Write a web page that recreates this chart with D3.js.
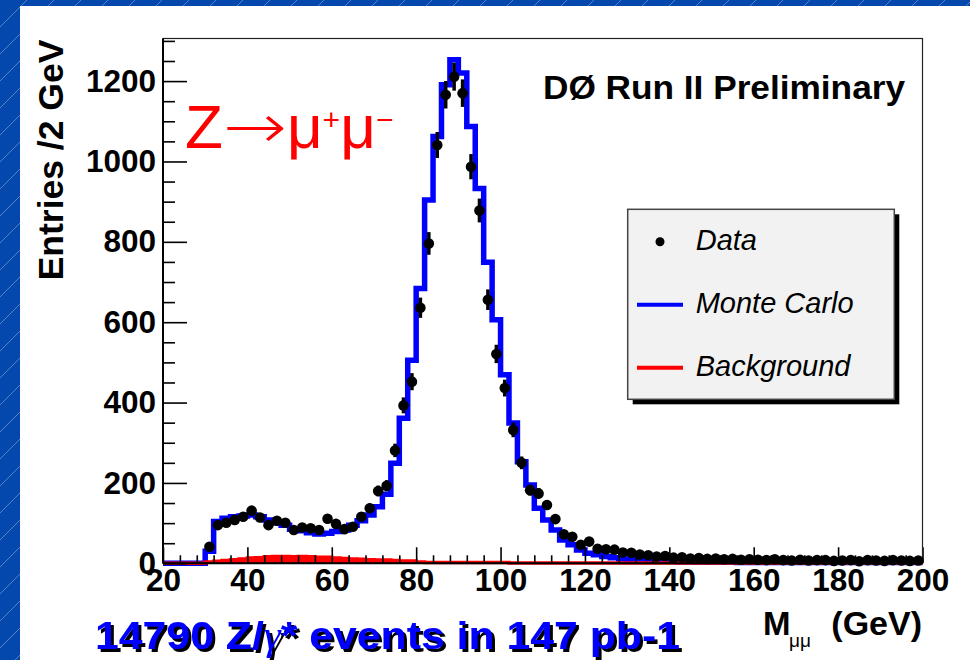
<!DOCTYPE html>
<html>
<head>
<meta charset="utf-8">
<script src="https://cdn.jsdelivr.net/npm/d3@7"></script>
<style>
  html, body { margin: 0; padding: 0; background: #0447ad; }
  svg { display: block; }
</style>
</head>
<body>
<svg id="chart" width="970" height="660"></svg>
<script>
// Dimuon invariant mass, 2 GeV bins from 20 to 200 GeV
const binEdges = d3.range(20, 201, 2);

// Observed entries per bin (empty bins below 30 GeV are not drawn)
const dataCounts = [
  null, null, null, null, null,
  41, 95, 101, 108, 116, 131, 114, 95, 106, 101,
  83, 89, 87, 83, 111, 98, 85, 91, 116, 137,
  180, 193, 281, 393, 452, 636, 796, 1041, 1166, 1211,
  1170, 987, 878, 656, 521, 436, 332, 250, 182, 174,
  145, 110, 72, 66, 46, 54, 36, 35, 34, 27,
  26, 22, 20, 17, 18, 14, 15, 12, 13, 11,
  12, 10, 11, 9, 10, 9, 8, 10, 8, 7,
  9, 7, 8, 8, 6, 7, 8, 5, 8, 7,
  6, 8, 7, 6, 7
];

// Simulated Z/gamma* -> mu mu prediction
const mcCounts = [
  0, 0, 0, 0, 0,
  30, 104, 112, 116, 118, 120, 116, 108, 101, 95,
  85, 81, 76, 73, 75, 79, 83, 95, 106, 120,
  141, 172, 249, 361, 505, 684, 904, 1062, 1191, 1253,
  1220, 1087, 933, 749, 606, 469, 349, 253, 195, 137,
  108, 83, 58, 46, 33, 25, 21, 17, 14, 11,
  9, 8, 7, 6, 5, 5, 4, 4, 3, 3,
  3, 3, 3, 2, 2, 2, 2, 2, 2, 2,
  2, 2, 2, 2, 2, 2, 2, 5, 2, 2,
  2, 2, 2, 2, 2
];

// Estimated background contribution
const bkgCounts = [
  0, 0, 0, 0, 0,
  3, 5, 7, 9, 11, 13, 14, 16, 17, 17,
  16, 17, 16, 15, 15, 13, 12, 11, 10, 9,
  8, 8, 7, 6, 6, 3, 2, 2, 2, 2,
  2, 2, 2, 2, 2, 2, 1, 1, 1, 1,
  1, 1, 1, 1, 1, 1, 1, 1, 1, 1,
  1, 1, 1, 1, 1, 1, 1, 1, 1, 1,
  1, 1, 1, 1, 1, 1, 1, 1, 1, 1,
  1, 1, 1, 1, 1, 1, 1, 1, 1, 1,
  1, 1, 1, 1, 1
];

const xTicks = [20, 40, 60, 80, 100, 120, 140, 160, 180, 200];
const xMinorTicks = d3.range(20, 201, 4).filter(v => !xTicks.includes(v));
const yTicks = [0, 200, 400, 600, 800, 1000, 1200];
const yMinorTicks = d3.range(0, 1301, 50).filter(v => !yTicks.includes(v));

const legendItems = [
  { label: "Data", kind: "marker" },
  { label: "Monte Carlo", kind: "line", color: "#0000ff" },
  { label: "Background", kind: "line", color: "#ff0000" }
];

const W = 970, H = 660;
const SANS = "'Liberation Sans', Arial, Helvetica, sans-serif";
const svg = d3.select("#chart");

// ---- slide backdrop: blue with fine diagonal pinstripes, white card on top
const defs = svg.append("defs");
const pat = defs.append("pattern")
  .attr("id", "stripes")
  .attr("patternUnits", "userSpaceOnUse")
  .attr("width", 27).attr("height", 27);
pat.append("path")
  .attr("d", "M-2,2 L2,-2 M0,27 L27,0 M25,29 L29,25")
  .attr("stroke", "rgba(255,255,255,0.33)")
  .attr("stroke-width", 1);

// hard black drop shadow for the caption
const shadow = defs.append("filter").attr("id", "capShadow")
  .attr("x", "-5%").attr("y", "-20%").attr("width", "110%").attr("height", "140%");
shadow.append("feOffset").attr("in", "SourceAlpha").attr("dx", 2.5).attr("dy", 2.5).attr("result", "off");
shadow.append("feFlood").attr("flood-color", "#000").attr("result", "blk");
shadow.append("feComposite").attr("in", "blk").attr("in2", "off").attr("operator", "in").attr("result", "sh");
const merge = shadow.append("feMerge");
merge.append("feMergeNode").attr("in", "sh");
merge.append("feMergeNode").attr("in", "SourceGraphic");

svg.append("rect").attr("width", W).attr("height", H).attr("fill", "#0447ad");
svg.append("rect").attr("width", W).attr("height", H).attr("fill", "url(#stripes)");
svg.append("rect").attr("x", 20).attr("y", 6).attr("width", W - 20).attr("height", H - 6).attr("fill", "#ffffff");

// ---- scales
const frame = { left: 163, right: 922.5, top: 38.5, bottom: 563.3 };
const x = d3.scaleLinear().domain([20, 200]).range([frame.left, frame.right]);
const y = d3.scaleLinear().domain([0, 1306]).range([frame.bottom, frame.top]);

// ---- histograms
function stepPoints(counts) {
  const pts = [];
  counts.forEach((v, i) => {
    pts.push([binEdges[i], v]);
    pts.push([binEdges[i + 1], v]);
  });
  return pts;
}
const stepLine = d3.line().x(d => x(d[0])).y(d => y(d[1]));
const stepArea = d3.area().x(d => x(d[0])).y0(y(0)).y1(d => y(d[1]));

const hist = svg.append("g");
hist.append("path")
  .attr("d", stepLine(stepPoints(mcCounts)))
  .attr("fill", "none")
  .attr("stroke", "#0000ff")
  .attr("stroke-width", 5.5)
  .attr("stroke-linejoin", "miter");

hist.append("path")
  .attr("d", stepArea(stepPoints(bkgCounts)))
  .attr("fill", "#ff0000");
hist.append("path")
  .attr("d", stepLine(stepPoints(bkgCounts)))
  .attr("fill", "none")
  .attr("stroke", "#ff0000")
  .attr("stroke-width", 3.5);

// ---- axes (ticks point into the frame)
const axisFont = g => g.selectAll("text")
  .attr("font-family", SANS).attr("font-weight", "bold")
  .attr("font-size", 31.5).attr("fill", "#000");

const yAxis = svg.append("g").attr("transform", `translate(${frame.left},0)`)
  .call(d3.axisLeft(y).tickValues(yTicks).tickSize(-24).tickPadding(7).tickFormat(d3.format("d")))
  .call(axisFont);
const yMinor = svg.append("g").attr("transform", `translate(${frame.left},0)`)
  .call(d3.axisLeft(y).tickValues(yMinorTicks).tickSize(-12).tickFormat(""));

const xAxis = svg.append("g").attr("transform", `translate(0,${frame.bottom})`)
  .call(d3.axisBottom(x).tickValues(xTicks).tickSize(-16).tickPadding(5.5).tickFormat(d3.format("d")))
  .call(axisFont);
const xMinor = svg.append("g").attr("transform", `translate(0,${frame.bottom})`)
  .call(d3.axisBottom(x).tickValues(xMinorTicks).tickSize(-8).tickFormat(""));

[yAxis, yMinor, xAxis, xMinor].forEach(g => {
  g.select(".domain").remove();
  g.selectAll(".tick line").attr("stroke", "#000").attr("stroke-width", 1.6);
});

// frame
svg.append("rect")
  .attr("x", frame.left).attr("y", frame.top)
  .attr("width", frame.right - frame.left).attr("height", frame.bottom - frame.top)
  .attr("fill", "none").attr("stroke", "#222").attr("stroke-width", 1.2);
svg.append("line")
  .attr("x1", frame.left).attr("x2", frame.left)
  .attr("y1", frame.top).attr("y2", frame.bottom)
  .attr("stroke", "#000").attr("stroke-width", 2);
svg.append("line")
  .attr("x1", frame.left).attr("x2", frame.right)
  .attr("y1", frame.bottom).attr("y2", frame.bottom)
  .attr("stroke", "#000").attr("stroke-width", 2);

// ---- data points with statistical error bars
const pts = dataCounts
  .map((v, i) => ({ m: (binEdges[i] + binEdges[i + 1]) / 2, v }))
  .filter(d => d.v !== null);

const dataG = svg.append("g");
dataG.selectAll("line.err").data(pts).join("line")
  .attr("class", "err")
  .attr("x1", d => x(d.m)).attr("x2", d => x(d.m))
  .attr("y1", d => y(d.v - Math.sqrt(d.v))).attr("y2", d => y(d.v + Math.sqrt(d.v)))
  .attr("stroke", "#000").attr("stroke-width", 3.5);
dataG.selectAll("circle").data(pts).join("circle")
  .attr("cx", d => x(d.m)).attr("cy", d => y(d.v))
  .attr("r", 5.3).attr("fill", "#000");

// ---- axis titles
svg.append("text")
  .attr("transform", "translate(63,160) rotate(-90)")
  .attr("text-anchor", "middle")
  .attr("font-family", SANS).attr("font-weight", "bold").attr("font-size", 35.5)
  .attr("fill", "#000")
  .text("Entries /2 GeV");

svg.append("text")
  .attr("x", 763).attr("y", 635)
  .attr("font-family", SANS).attr("font-weight", "bold").attr("font-size", 33)
  .attr("fill", "#000").text("M");
svg.append("text")
  .attr("x", 789).attr("y", 647)
  .attr("font-family", SANS).attr("font-size", 19)
  .attr("fill", "#000").text("μμ");
svg.append("text")
  .attr("x", 922).attr("y", 635).attr("text-anchor", "end")
  .attr("font-family", SANS).attr("font-weight", "bold").attr("font-size", 34)
  .attr("fill", "#000").text("(GeV)");

// ---- annotations
svg.append("text")
  .attr("x", 543).attr("y", 99)
  .attr("textLength", 362).attr("lengthAdjust", "spacingAndGlyphs")
  .attr("font-family", SANS).attr("font-weight", "bold").attr("font-size", 34)
  .attr("fill", "#000").text("DØ Run II Preliminary");

// Z -> mu+ mu- : the arrow is stretched to a long, thin arrow
const zt = svg.append("text")
  .attr("x", 185).attr("y", 148)
  .attr("font-family", SANS).attr("font-size", 62).attr("fill", "#ff0000");
zt.append("tspan").text("Z");
zt.append("tspan")
  .attr("font-family", "'DejaVu Sans', sans-serif").attr("font-weight", "200")
  .attr("textLength", 64).attr("lengthAdjust", "spacingAndGlyphs")
  .text("→");
zt.append("tspan").text("μ");
zt.append("tspan").attr("font-size", 30).attr("dy", -18).text("+");
zt.append("tspan").attr("dy", 18).text("μ");
zt.append("tspan").attr("font-size", 30).attr("dy", -18).text("−");

// ---- legend
const lg = svg.append("g");
const lgBox = { x: 627.7, y: 209.3, w: 266.6, h: 190 };
lg.append("rect")
  .attr("x", lgBox.x + 5).attr("y", lgBox.y + 5)
  .attr("width", lgBox.w).attr("height", lgBox.h).attr("fill", "#000");
lg.append("rect")
  .attr("x", lgBox.x).attr("y", lgBox.y)
  .attr("width", lgBox.w).attr("height", lgBox.h)
  .attr("fill", "#f2f2f2").attr("stroke", "#444").attr("stroke-width", 1.5);

const rowY = d3.scalePoint().domain(legendItems.map(d => d.label)).range([241.7, 367.7]);
legendItems.forEach(item => {
  const cy = rowY(item.label);
  if (item.kind === "marker") {
    lg.append("circle").attr("cx", 660).attr("cy", cy).attr("r", 4.5).attr("fill", "#000");
  } else {
    lg.append("line")
      .attr("x1", 637).attr("x2", 683).attr("y1", cy).attr("y2", cy)
      .attr("stroke", item.color).attr("stroke-width", 4);
  }
  lg.append("text")
    .attr("x", 695.7).attr("y", cy + 7.8)
    .attr("font-family", SANS).attr("font-style", "italic").attr("font-size", 29)
    .attr("fill", "#000").text(item.label);
});

// ---- caption with drop shadow
const cap = svg.append("text")
  .attr("x", 95).attr("y", 649)
  .attr("textLength", 585).attr("lengthAdjust", "spacingAndGlyphs")
  .attr("font-family", SANS).attr("font-weight", "bold").attr("font-size", 39)
  .attr("fill", "#0000ff")
  .attr("filter", "url(#capShadow)");
cap.append("tspan").text("14790 Z/");
cap.append("tspan")
  .attr("font-family", "'Liberation Serif', 'Times New Roman', serif")
  .attr("font-style", "italic").attr("font-weight", "normal").text("γ");
cap.append("tspan").text("* events in 147 pb-1");
</script>
</body>
</html>
